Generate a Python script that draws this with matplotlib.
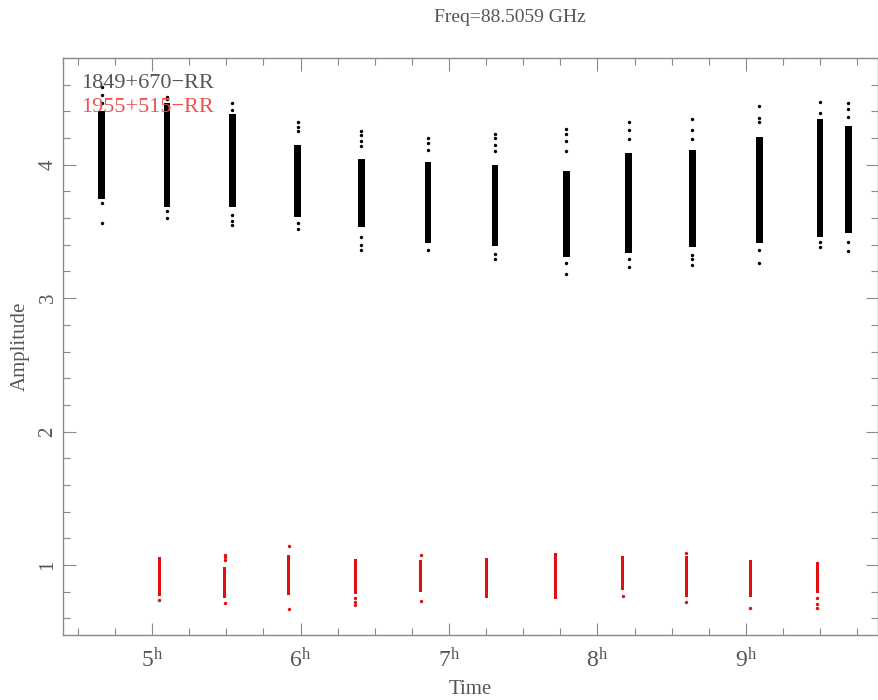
import matplotlib
matplotlib.use("Agg")
import matplotlib.pyplot as plt
from matplotlib.ticker import MultipleLocator

plt.rcParams['font.family'] = ['Liberation Serif', 'DejaVu Serif']
plt.rcParams['mathtext.fontset'] = 'custom'
plt.rcParams['mathtext.rm'] = 'Liberation Serif'
plt.rcParams['mathtext.it'] = 'Liberation Serif:italic'

# 1849+670-RR scans: time (h), dense core range, sparse tail points
blk_time = [4.66, 5.10, 5.54, 5.98, 6.41, 6.86, 7.31, 7.79, 8.21, 8.64, 9.09, 9.50, 9.69]
blk_lo = [3.74, 3.68, 3.68, 3.61, 3.53, 3.41, 3.39, 3.31, 3.34, 3.38, 3.41, 3.46, 3.49]
blk_hi = [4.40, 4.46, 4.38, 4.15, 4.04, 4.02, 4.00, 3.95, 4.09, 4.11, 4.21, 4.34, 4.29]
blk_tails = [
    [4.58, 4.52, 4.46, 3.71, 3.56],
    [4.51, 4.49, 3.65, 3.60],
    [4.46, 4.41, 3.62, 3.58, 3.55],
    [4.32, 4.28, 4.25, 3.56, 3.52],
    [4.25, 4.22, 4.18, 4.14, 3.46, 3.40, 3.36],
    [4.20, 4.16, 4.11, 3.36],
    [4.23, 4.20, 4.15, 4.10, 3.33, 3.29],
    [4.27, 4.23, 4.18, 4.10, 3.26, 3.18],
    [4.32, 4.26, 4.19, 3.29, 3.23],
    [4.34, 4.26, 4.19, 3.32, 3.29, 3.25],
    [4.44, 4.35, 4.32, 3.36, 3.26],
    [4.47, 4.39, 3.42, 3.38],
    [4.46, 4.42, 4.36, 3.42, 3.35],
]
blk_dur = 0.044

# 1955+515-RR scans
red_time = [5.05, 5.49, 5.92, 6.37, 6.81, 7.25, 7.72, 8.17, 8.60, 9.03, 9.48]
red_lo = [0.767, 0.75, 0.775, 0.78, 0.80, 0.75, 0.742, 0.81, 0.757, 0.757, 0.787]
red_hi = [1.058, 0.988, 1.075, 1.043, 1.038, 1.055, 1.088, 1.07, 1.065, 1.038, 1.025]
red_tails = [
    [0.737],
    [1.075, 1.058, 1.035, 0.717],
    [1.143, 0.667],
    [0.75, 0.725, 0.70],
    [1.075, 0.73],
    [],
    [],
    [0.767],
    [1.093, 0.725],
    [0.675],
    [0.75, 0.71, 0.675],
]
red_dur = 0.021

xticks = [5, 6, 7, 8, 9]
xlabels = ['$%d^{\\mathrm{h}}$' % h for h in xticks]
yticks = [1, 2, 3, 4]

gray = '#8a8a8a'
red = '#e01010'
txt = '#555555'

fig = plt.figure(figsize=(8.79, 7.0), dpi=100)
ax = fig.add_axes([63 / 879, 1 - 635 / 700, 815 / 879, 577 / 700])

# dense part of each scan
ax.bar(blk_time, [h - l for h, l in zip(blk_hi, blk_lo)], bottom=blk_lo,
       width=blk_dur, color='black', linewidth=0)
ax.bar(red_time, [h - l for h, l in zip(red_hi, red_lo)], bottom=red_lo,
       width=red_dur, color=red, linewidth=0)

# sparse points at the ends
for t, tail in zip(blk_time, blk_tails):
    ax.scatter([t] * len(tail), tail, s=6, color='black', linewidths=0)
for t, tail in zip(red_time, red_tails):
    ax.scatter([t] * len(tail), tail, s=6, color=red, linewidths=0)

ax.set_xlim(4.40, 9.89)
ax.set_ylim(0.475, 4.80)

ax.set_xticks(xticks)
ax.set_xticklabels(xlabels)
ax.xaxis.set_minor_locator(MultipleLocator(0.25))
ax.set_yticks(yticks)
ax.set_yticklabels([str(v) for v in yticks], rotation=90, va='center')
ax.yaxis.set_minor_locator(MultipleLocator(0.2))

ax.tick_params(which='both', direction='in', top=True, right=True, colors=gray,
               labelcolor=txt)
ax.tick_params(axis='x', labelsize=17, pad=9)
ax.tick_params(axis='y', labelsize=15, pad=4)
ax.tick_params(which='major', length=9, width=0.8)
ax.tick_params(which='minor', length=5, width=0.8)
for s in ax.spines.values():
    s.set_color(gray)
    s.set_linewidth(1.0)

ax.set_xlabel('Time', fontsize=15, color=txt, labelpad=6)
ax.set_ylabel('Amplitude', fontsize=15, color=txt, labelpad=6)

ax.text(0.022, 0.955, '1849+670\u2212RR', transform=ax.transAxes, fontsize=16,
        color=txt, va='center', ha='left')
ax.text(0.022, 0.915, '1955+515\u2212RR', transform=ax.transAxes, fontsize=16,
        color='#f05050', va='center', ha='left')

fig.text(510 / 879, 1 - 18 / 700, 'Freq=88.5059 GHz', fontsize=14,
         color=txt, ha='center', va='center')

fig.savefig('out.png', dpi=100)
